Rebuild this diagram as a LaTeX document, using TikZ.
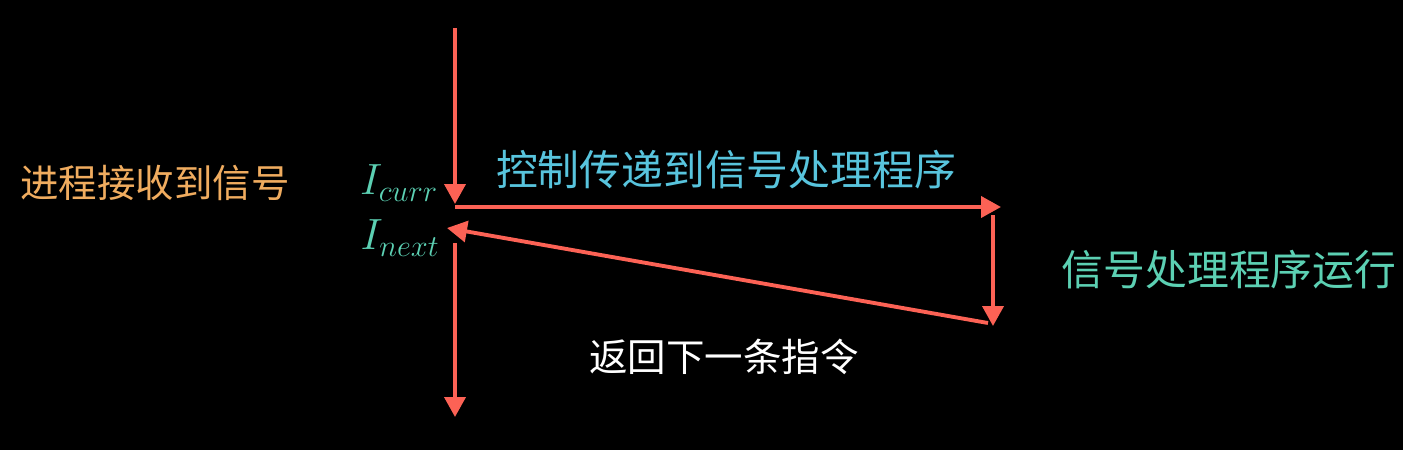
\documentclass[tikz,border=0pt]{standalone}
\usepackage{amsmath,amssymb}
\usepackage{fontspec}
\newfontfamily\cjk{Noto Sans CJK SC}
\usetikzlibrary{arrows.meta}
\definecolor{sigred}{HTML}{FC6255}
\definecolor{sigteal}{HTML}{5CD0B3}
\definecolor{sigblue}{HTML}{58C4DD}
\definecolor{siggold}{HTML}{F0AC5F}

\begin{document}
\begin{tikzpicture}[x=0.02cm, y=-0.02cm,
  flow/.style={draw=sigred, line width=2.2pt, -{Triangle[width=0.42cm,length=0.4cm]}},
  bigcn/.style={font=\cjk\fontsize{23.8}{28}\selectfont},
  smallcn/.style={font=\cjk\fontsize{21.9}{26}\selectfont},
  instr/.style={text=sigteal, font=\fontsize{26}{31}\selectfont}]
% Background
\fill[black] (0,0) rectangle (1403,450);
\useasboundingbox (0,0) rectangle (1403,450);

% End points of the control flow
\coordinate (top) at (455,28);
\coordinate (curr) at (455,204);
\coordinate (hstart) at (455,207);
\coordinate (hend) at (1001,207);
\coordinate (vstart) at (993,215);
\coordinate (vend) at (993,326);
\coordinate (dstart) at (988,323);
\coordinate (dend) at (447,228);
\coordinate (nstart) at (455,243);
\coordinate (bottom) at (455,417);

% Control flow
\draw[flow] (top) -- (curr);
\draw[flow] (hstart) -- (hend);
\draw[flow] (vstart) -- (vend);
\draw[flow] (dstart) -- (dend);
\draw[flow] (nstart) -- (bottom);

% Instructions
\node[instr] (icurr) at (399,183) {$I_{curr}$};
\node[instr] (inext) at (400,238) {$I_{next}$};

% Labels
\node[smallcn, text=siggold] (recv) at (155,183) {进程接收到信号};
\node[bigcn, text=sigblue] (pass) at (726,170) {控制传递到信号处理程序};
\node[bigcn, text=sigteal] (run) at (1229,270) {信号处理程序运行};
\node[smallcn, text=white] (back) at (724,357) {返回下一条指令};

\end{tikzpicture}
\end{document}
